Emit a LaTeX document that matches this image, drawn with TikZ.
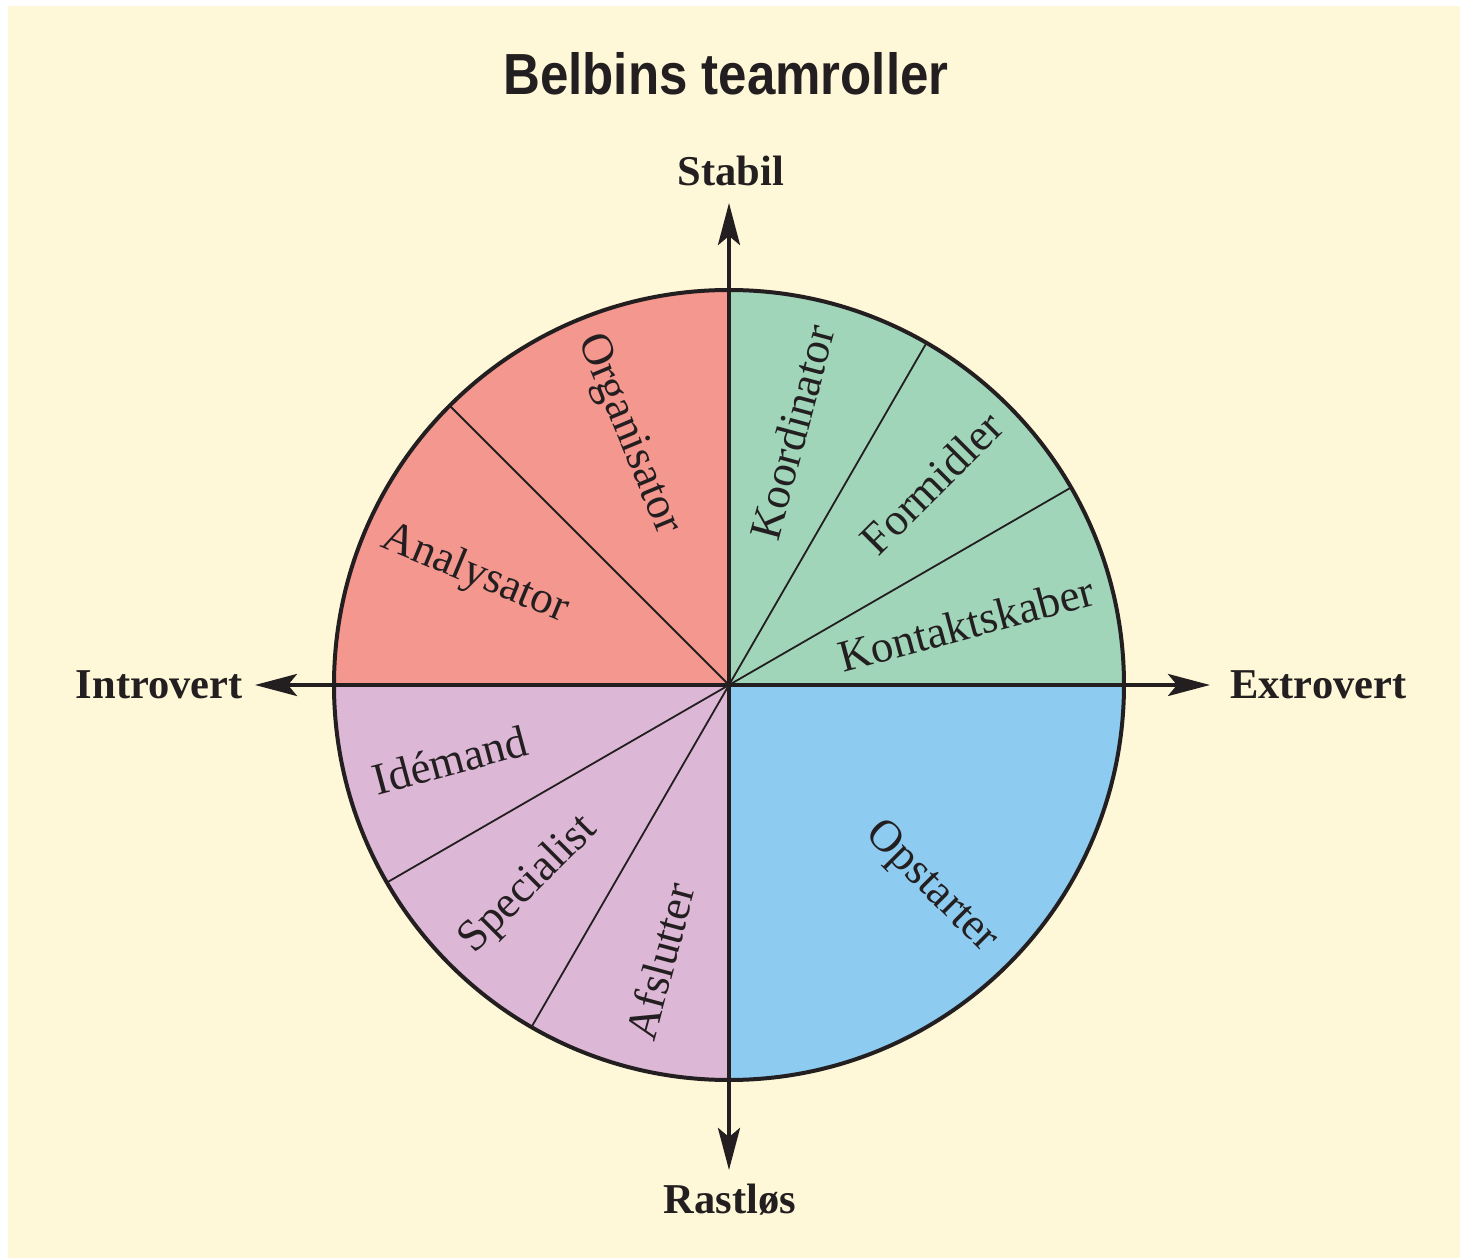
\documentclass[tikz,border=0pt]{standalone}
\usepackage{fontspec}
\setmainfont{Liberation Serif}
\newfontfamily\headfont{Liberation Sans}
\usetikzlibrary{arrows.meta}

\definecolor{paper}{HTML}{FEF7D8}
\definecolor{ink}{HTML}{231F20}
\definecolor{rolered}{HTML}{F4978F}
\definecolor{rolegreen}{HTML}{A0D5BA}
\definecolor{roleblue}{HTML}{8DCBF0}
\definecolor{rolepurple}{HTML}{DDB8D6}

\tikzset{
  rim/.style={draw=ink, line width=4pt},
  divider/.style={draw=ink, line width=1.8pt},
  axisline/.style={draw=ink, line width=4.2pt, -{Stealth[length=42pt,width=22pt,inset=9pt]}},
  axislabel/.style={text=ink, inner sep=0pt, font=\bfseries\fontsize{42.5}{50}\selectfont},
  rolelabel/.style={text=ink, inner sep=0pt, anchor=center, font=\fontsize{45}{54}\selectfont},
}

\newcommand{\rad}{395}

\begin{document}
\begin{tikzpicture}[x=1pt,y=1pt]
  \useasboundingbox (-729,-573) rectangle (731,685);
  \fill[white] (-729,-573) rectangle (731,685);
  \fill[paper] (-721,-573) rectangle (731,679);

  \coordinate (c) at (0,0);

  % quadrants of the wheel
  \fill[rolegreen]  (c) -- (0:\rad)   arc[start angle=0,   end angle=90,  radius=\rad] -- cycle;
  \fill[rolered]    (c) -- (90:\rad)  arc[start angle=90,  end angle=180, radius=\rad] -- cycle;
  \fill[rolepurple] (c) -- (180:\rad) arc[start angle=180, end angle=270, radius=\rad] -- cycle;
  \fill[roleblue]   (c) -- (270:\rad) arc[start angle=270, end angle=360, radius=\rad] -- cycle;

  % sector dividers
  \foreach \a in {30,60,135,210,240}
    \draw[divider] (c) -- (\a:\rad);

  \draw[rim] (c) circle[radius=\rad];

  % axes
  \coordinate (tipN) at (0,482);
  \coordinate (tipS) at (0,-485);
  \coordinate (tipW) at (-474,0);
  \coordinate (tipE) at (481,0);
  \draw[axisline] (c) -- (tipN);
  \draw[axisline] (c) -- (tipS);
  \draw[axisline] (c) -- (tipW);
  \draw[axisline] (c) -- (tipE);

  % title and axis labels
  \node[text=ink, inner sep=0pt, anchor=base,
        font=\headfont\bfseries\fontsize{58}{64}\selectfont]
    (title) at (-3,590) {\scalebox{0.88}[1]{Belbins teamroller}};
  \node[axislabel, anchor=base]      (stabil)    at (2,499)    {Stabil};
  \node[axislabel, anchor=base]      (rastlos)   at (1,-528)   {Rastløs};
  \node[axislabel, anchor=base east] (introvert) at (-486,-14) {Introvert};
  \node[axislabel, anchor=base west] (extrovert) at (501,-14)  {Extrovert};

  % role names along the sector bisectors
  \node[rolelabel, rotate=75]    (koordinator)   at (76:260)    {Koordinator};
  \node[rolelabel, rotate=45]    (formidler)     at (45:286)    {Formidler};
  \node[rolelabel, rotate=15]    (kontaktskaber) at (14.5:245)  {Kontaktskaber};
  \node[rolelabel, rotate=-67.5] (organisator)   at (112:270)   {Organisator};
  \node[rolelabel, rotate=-22.5] (analysator)    at (156.5:277) {Analysator};
  \node[rolelabel, rotate=15]    (idemand)       at (195:289)   {Idémand};
  \node[rolelabel, rotate=45]    (specialist)    at (225:283)   {Specialist};
  \node[rolelabel, rotate=75]    (afslutter)     at (256:285)   {Afslutter};
  \node[rolelabel, rotate=-45]   (opstarter)     at (315:286)   {Opstarter};
\end{tikzpicture}
\end{document}
